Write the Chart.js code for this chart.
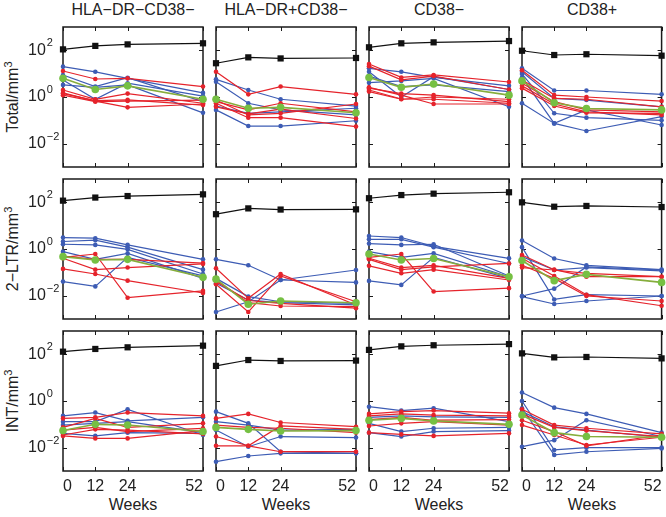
<!DOCTYPE html>
<html>
<head>
<meta charset="utf-8">
<script src="https://cdn.jsdelivr.net/npm/chart.js@4"></script>
<style>
  body { margin: 0; background: #fff; }
  #wrap { position: relative; width: 666px; height: 517px; font-family: 'Liberation Sans', Arial, sans-serif; color: #222; }
  #wrap canvas { position: absolute; left: 0; top: 0; }
  .lbl { position: absolute; font-size: 16px; line-height: 16px; white-space: nowrap; }
  .col-title { top: 2px; transform: translateX(-50%); }
  .x-title { top: 497px; transform: translateX(-50%); }
  .y-title { left: 13px; transform: translate(-50%, -50%) rotate(-90deg); }
  .sup { font-size: 11px; position: relative; top: -6px; }
</style>
</head>
<body>
<div id="wrap"></div>
<script>
const weeks = [0, 12, 24, 52];
const cellTypes = ['HLA−DR−CD38−', 'HLA−DR+CD38−', 'CD38−', 'CD38+'];
const measures = ['Total', '2−LTR', 'INT'];
const yTickValues = [1e2, 1, 1e-2];
const yTickExponents = ['2', '0', '−2'];

// one entry per column (cell type), each series is [wk0, wk12, wk24, wk52]
const totalBlack = [[110, 155, 180, 200], [28, 50, 45, 47], [135, 200, 220, 250], [96, 63, 68, 59]];
const totalGreen = [[6.3, 2.1, 3.0, 0.8], [0.8, 0.33, 0.36, 0.21], [6.9, 2.6, 3.6, 1.2], [4.9, 0.57, 0.32, 0.28]];
const totalBlue = [
  [[20, 12, 6.3, 1.5], [5.4, 0.8, 3.9, 1.1], [3.3, 2.6, 3.3, 0.21], [8.8, 2.8, 6.7, 0.63]],
  [[5.7, 2.0, 0.8, 0.41], [4.5, 0.54, 0.28, 0.17], [0.41, 0.2, 0.23, 0.33], [0.28, 0.057, 0.057, 0.096]],
  [[17, 12, 6.9, 3.0], [12, 1.0, 7.4, 2.1], [4.1, 4.9, 6.3, 0.38], [7.9, 2.8, 3.3, 1.7]],
  [[17, 1.9, 1.9, 1.3], [9.7, 0.2, 0.13, 0.1], [6.9, 0.074, 0.035, 0.145], [0.54, 0.074, 0.28, 0.063], [12, 0.87, 0.74, 0.38]]
];
const totalRed = [
  [[13, 5.9, 6.3, 2.8], [2.0, 0.8, 1.4, 0.54], [1.5, 0.67, 0.36, 0.5], [1.2, 0.63, 0.67, 0.74], [1.4, 0.7, 0.75, 0.45]],
  [[12, 1.3, 2.8, 1.3], [0.74, 0.17, 0.2, 0.5], [0.54, 0.13, 0.13, 0.054], [0.63, 0.28, 0.54, 0.23], [0.38, 0.19, 0.3, 0.12]],
  [[26, 6.9, 8.8, 4.4], [21, 5.4, 7.9, 2.1], [2.4, 1.4, 1.2, 0.63], [2.0, 0.82, 0.8, 0.54], [2.6, 1.2, 0.5, 0.5], [1.7, 0.8, 1.0, 0.8]],
  [[14, 1.2, 1.0, 0.67], [5.4, 0.87, 0.8, 0.38], [2.4, 0.41, 0.21, 0.2], [3.0, 0.5, 0.23, 0.17], [3.9, 0.63, 0.28, 0.23]]
];

const ltrBlack = [[118, 160, 186, 220], [31, 55, 49, 50], [150, 205, 235, 270], [100, 65, 70, 63]];
const ltrGreen = [[0.47, 0.34, 0.36, 0.061], [0.051, 0.0043, 0.0059, 0.005], [0.61, 0.34, 0.39, 0.065], [0.32, 0.044, 0.082, 0.037]];
const ltrBlue = [
  [[3.1, 2.9, 1.5, 0.36], [2.1, 2.4, 1.2, 0.13], [1.6, 1.5, 0.97, 0.085], [0.77, 0.36, 0.65, 0.055], [0.04, 0.025, 0.44, 0.07]],
  [[0.36, 0.2, 0.047, 0.037], [0.002, 0.0055, 0.047, 0.126], [0.055, 0.0091, 0.0055, 0.0047], [0.034, 0.0065, 0.005, 0.004]],
  [[3.6, 3.1, 1.3, 0.4], [2.6, 2.6, 1.2, 0.24], [1.7, 1.5, 1.6, 0.07], [0.77, 0.44, 0.65, 0.065], [0.043, 0.029, 0.44, 0.055]],
  [[2.3, 0.39, 0.2, 0.13], [1.2, 0.0069, 0.011, 0.0097], [0.0097, 0.02, 0.17, 0.126], [0.0091, 0.0044, 0.0059, 0.0097], [0.47, 0.126, 0.16, 0.115]]
];
const ltrRed = [
  [[0.44, 0.61, 0.0082, 0.016], [0.4, 0.13, 0.16, 0.23], [0.14, 0.085, 0.044, 0.013], [0.5, 0.36, 0.36, 0.25]],
  [[0.15, 0.0077, 0.085, 0.004], [0.031, 0.002, 0.07, 0.0055], [0.047, 0.005, 0.0036, 0.0034], [0.04, 0.0062, 0.0047, 0.0029]],
  [[0.44, 0.61, 0.015, 0.021], [0.36, 0.13, 0.17, 0.24], [0.19, 0.091, 0.13, 0.047], [0.4, 0.16, 0.2, 0.055]],
  [[0.55, 0.13, 0.065, 0.065], [0.16, 0.126, 0.091, 0.065], [0.4, 0.07, 0.011, 0.0037], [0.2, 0.055, 0.0097, 0.0059]]
];

const intBlack = [[130, 170, 200, 235], [32, 57, 52, 54], [155, 220, 245, 275], [110, 74, 77, 67]];
const intGreen = [[0.054, 0.10, 0.093, 0.049], [0.074, 0.061, 0.052, 0.054], [0.15, 0.18, 0.14, 0.1], [0.25, 0.044, 0.03, 0.028]];
const intBlue = [
  [[0.23, 0.32, 0.14, 0.2], [0.13, 0.13, 0.44, 0.035], [0.093, 0.11, 0.13, 0.044], [0.041, 0.032, 0.044, 0.041]],
  [[0.35, 0.11, 0.0067, 0.0057], [0.0025, 0.0044, 0.0057, 0.0057], [0.057, 0.011, 0.03, 0.027], [0.13, 0.093, 0.057, 0.061]],
  [[0.57, 0.39, 0.49, 0.13], [0.2, 0.23, 0.21, 0.2], [0.11, 0.049, 0.068, 0.074], [0.044, 0.03, 0.049, 0.054]],
  [[2.3, 0.52, 0.28, 0.044], [1.0, 0.008, 0.01, 0.01], [0.49, 0.0049, 0.0067, 0.0093], [0.011, 0.021, 0.15, 0.03], [0.35, 0.079, 0.057, 0.028]]
];
const intRed = [
  [[0.18, 0.2, 0.32, 0.23], [0.074, 0.18, 0.074, 0.11], [0.032, 0.025, 0.025, 0.054], [0.035, 0.061, 0.057, 0.039], [0.057, 0.074, 0.049, 0.067]],
  [[0.18, 0.28, 0.12, 0.079], [0.03, 0.012, 0.085, 0.061], [0.012, 0.012, 0.0067, 0.0067], [0.093, 0.074, 0.068, 0.044]],
  [[0.28, 0.35, 0.39, 0.3], [0.23, 0.28, 0.25, 0.23], [0.085, 0.11, 0.13, 0.093], [0.044, 0.037, 0.032, 0.041], [0.16, 0.2, 0.15, 0.16]],
  [[0.44, 0.093, 0.068, 0.039], [0.28, 0.074, 0.054, 0.03], [0.15, 0.049, 0.012, 0.035], [0.093, 0.035, 0.013, 0.028]]
];

const rows = [
  { black: totalBlack, green: totalGreen, blue: totalBlue, red: totalRed },
  { black: ltrBlack, green: ltrGreen, blue: ltrBlue, red: ltrRed },
  { black: intBlack, green: intGreen, blue: intBlue, red: intRed }
];

const W = 666, H = 517;
const colLeft = [63, 216, 369, 522];
const rowTop = [27, 179, 331];
const panelW = 140, panelH = 140;
const xAxisH = 30;
const FONT = "'Liberation Sans', Arial, sans-serif";
const BLUE = '#3d5cb4';
const RED = '#e5232b';
const GREEN = '#76c043';
const GREEN_LINE = '#86ad3c';

const wrap = document.getElementById('wrap');

// labels around the grid
cellTypes.forEach((name, c) => {
  const d = document.createElement('div');
  d.className = 'lbl col-title';
  d.style.left = colLeft[c] + panelW / 2 + 'px';
  d.textContent = name;
  wrap.appendChild(d);
  const x = document.createElement('div');
  x.className = 'lbl x-title';
  x.style.left = colLeft[c] + panelW / 2 + 'px';
  x.textContent = 'Weeks';
  wrap.appendChild(x);
});
measures.forEach((name, r) => {
  const d = document.createElement('div');
  d.className = 'lbl y-title';
  d.style.top = rowTop[r] + panelH / 2 + 'px';
  d.innerHTML = `${name}/mm<span class="sup">3</span>`;
  wrap.appendChild(d);
});

const framePlugin = {
  id: 'frame',
  beforeDatasetsDraw(chart, args, opts) {
    const { ctx, chartArea: a, scales: { x, y } } = chart;
    ctx.save();
    ctx.strokeStyle = '#1a1a1a';
    ctx.lineWidth = 1;
    ctx.beginPath();
    yTickValues.forEach((v) => {
      const py = Math.round(y.getPixelForValue(v)) + 0.5;
      ctx.moveTo(a.left, py); ctx.lineTo(a.left + 4, py);
      ctx.moveTo(a.right, py); ctx.lineTo(a.right - 4, py);
    });
    weeks.forEach((w) => {
      const px = Math.round(x.getPixelForValue(w)) + 0.5;
      ctx.moveTo(px, a.top); ctx.lineTo(px, a.top + 4);
      ctx.moveTo(px, a.bottom); ctx.lineTo(px, a.bottom - 4);
    });
    ctx.stroke();
    ctx.lineWidth = 1.5;
    ctx.strokeRect(a.left, a.top, a.right - a.left, a.bottom - a.top);
    if (opts.yLabels) {
      ctx.fillStyle = '#222';
      yTickValues.forEach((v, i) => {
        const py = y.getPixelForValue(v);
        ctx.font = `16px ${FONT}`;
        ctx.textAlign = 'left';
        ctx.textBaseline = 'middle';
        ctx.fillText('10', 28, py);
        const wBase = ctx.measureText('10').width;
        ctx.font = `11px ${FONT}`;
        ctx.textBaseline = 'alphabetic';
        ctx.fillText(yTickExponents[i], 28 + wBase + 1, py - 4);
      });
    }
    ctx.restore();
  }
};

// fixed-height x axis so the plot box lands exactly where the padding puts it
const fixAxis = (scale) => {
  scale.height = scale.options.display ? xAxisH : 0;
  scale.paddingLeft = 0;
  scale.paddingRight = 0;
  scale.paddingTop = 0;
  scale.paddingBottom = 0;
};

const series = (vals, color, radius, order) => ({
  data: vals.map((v, i) => ({ x: weeks[i], y: v })),
  borderColor: color,
  backgroundColor: color,
  pointBackgroundColor: color,
  pointBorderWidth: 0,
  pointRadius: radius,
  borderWidth: 1.2,
  clip: false,
  order
});

const makePanel = (ctx, row, r, c) => {
  const datasets = [];
  row.blue[c].forEach((vals) => datasets.push(series(vals, BLUE, 2.3, 3)));
  row.red[c].forEach((vals) => datasets.push(series(vals, RED, 2.3, 2)));
  datasets.push({ ...series(row.black[c], '#111', 4.4, 1), pointStyle: 'rect' });
  datasets.push({ ...series(row.green[c], GREEN, 3.8, 0), borderColor: GREEN_LINE, borderWidth: 1.6 });
  const bottomRow = r === 2;

  return new Chart(ctx, {
    type: 'line',
    data: { datasets },
    options: {
      responsive: false,
      animation: false,
      devicePixelRatio: 1,
      events: [],
      layout: {
        padding: {
          left: colLeft[c],
          top: rowTop[r],
          right: W - colLeft[c] - panelW,
          bottom: H - rowTop[r] - panelH - (bottomRow ? xAxisH : 0)
        }
      },
      plugins: {
        legend: { display: false },
        tooltip: { enabled: false },
        frame: { yLabels: c === 0 }
      },
      scales: {
        x: {
          type: 'linear',
          min: 0,
          max: 52,
          display: bottomRow,
          grid: { display: false, drawTicks: false },
          border: { display: false },
          afterBuildTicks: (s) => { s.ticks = weeks.map((v) => ({ value: v })); },
          afterFit: fixAxis,
          ticks: { font: { family: FONT, size: 16 }, color: '#222', padding: 6, autoSkip: false, maxRotation: 0, align: 'inner' }
        },
        y: { type: 'logarithmic', min: 1e-3, max: 1e3, display: false }
      }
    },
    plugins: [framePlugin]
  });
};

rows.forEach((row, r) => {
  for (let c = 0; c < 4; c++) {
    const canvas = document.createElement('canvas');
    canvas.width = W;
    canvas.height = H;
    wrap.appendChild(canvas);
    makePanel(canvas.getContext('2d'), row, r, c);
  }
});
</script>
</body>
</html>
